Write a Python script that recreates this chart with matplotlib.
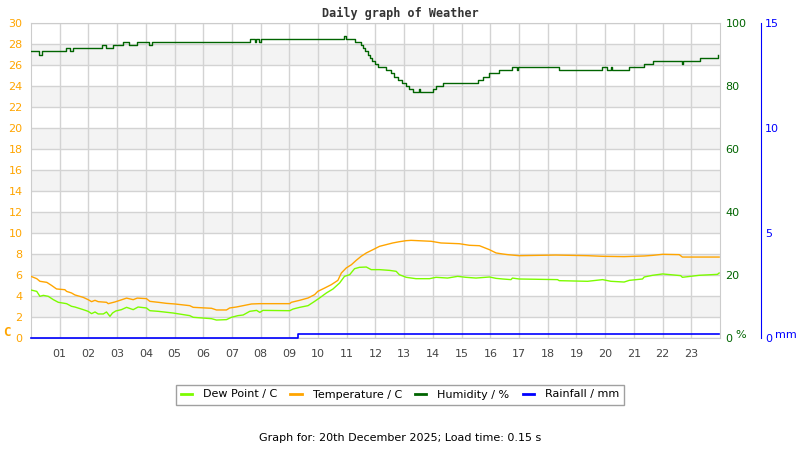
import matplotlib
matplotlib.use('Agg')
import matplotlib.pyplot as plt
from matplotlib.lines import Line2D

# readings taken off the daily weather graph (hour of day, value)
temp_hours = [0.00, 0.20, 0.31, 0.55, 0.72, 0.89, 1.18, 1.24, 1.41, 1.53, 1.82, 1.99,
              2.11, 2.23, 2.34, 2.63, 2.69, 2.92, 3.10, 3.33, 3.56, 3.70, 4.02, 4.14,
              4.43, 4.72, 5.01, 5.53, 5.65, 6.29, 6.46, 6.81, 6.92, 7.15, 7.39, 7.68,
              7.97, 9.01, 9.07, 9.36, 9.65, 9.88, 9.99, 10.23, 10.46, 10.69, 10.81, 10.98,
              11.16, 11.33, 11.50, 11.68, 11.91, 12.14, 12.37, 12.60, 12.83, 13.07, 13.24,
              13.94, 14.28, 14.92, 15.27, 15.62, 15.97, 16.20, 16.43, 16.60, 17.00, 18.28,
              19.39, 19.91, 20.66, 21.36, 21.65, 22.00, 22.58, 22.69, 23.97]
temp_vals = [5.87, 5.65, 5.40, 5.30, 5.00, 4.67, 4.60, 4.44, 4.29, 4.10, 3.87, 3.65,
             3.46, 3.59, 3.46, 3.40, 3.27, 3.43, 3.59, 3.80, 3.65, 3.80, 3.75, 3.49,
             3.40, 3.30, 3.24, 3.08, 2.92, 2.83, 2.67, 2.67, 2.86, 2.95, 3.08, 3.24,
             3.27, 3.27, 3.40, 3.59, 3.81, 4.13, 4.44, 4.76, 5.08, 5.49, 6.19, 6.67,
             6.98, 7.40, 7.78, 8.10, 8.41, 8.73, 8.89, 9.05, 9.17, 9.27, 9.30,
             9.21, 9.05, 8.98, 8.83, 8.79, 8.41, 8.10, 8.00, 7.94, 7.84, 7.90,
             7.84, 7.78, 7.75, 7.81, 7.87, 7.97, 7.94, 7.71, 7.71]

dew_hours = [0.00, 0.20, 0.31, 0.43, 0.60, 0.78, 0.95, 1.24, 1.41, 1.53, 1.82, 1.99,
             2.11, 2.23, 2.34, 2.52, 2.63, 2.75, 2.84, 2.95, 3.15, 3.33, 3.56, 3.73,
             4.02, 4.14, 4.43, 4.95, 5.53, 5.65, 6.29, 6.46, 6.81, 6.98, 7.21, 7.39,
             7.62, 7.86, 7.97, 8.08, 9.01, 9.13, 9.36, 9.65, 9.88, 10.05, 10.29, 10.52,
             10.75, 10.92, 11.10, 11.27, 11.44, 11.68, 11.85, 12.14, 12.49, 12.72, 12.83,
             13.07, 13.41, 13.88, 14.11, 14.51, 14.86, 15.15, 15.50, 15.97, 16.20, 16.43,
             16.72, 16.77, 17.00, 18.34, 18.40, 19.39, 19.91, 20.20, 20.66, 20.84, 21.30,
             21.36, 21.65, 22.00, 22.63, 22.69, 23.27, 23.91, 23.97]
dew_vals = [4.57, 4.44, 3.97, 4.06, 3.97, 3.65, 3.40, 3.27, 3.02, 2.95, 2.70, 2.54,
            2.32, 2.48, 2.29, 2.29, 2.48, 2.06, 2.38, 2.57, 2.70, 2.92, 2.70, 2.95,
            2.86, 2.60, 2.54, 2.38, 2.13, 1.97, 1.84, 1.71, 1.75, 1.97, 2.13, 2.19,
            2.54, 2.63, 2.44, 2.63, 2.60, 2.76, 2.92, 3.08, 3.49, 3.81, 4.29, 4.67,
            5.24, 5.87, 6.03, 6.60, 6.73, 6.76, 6.51, 6.51, 6.44, 6.35, 6.03,
            5.78, 5.65, 5.65, 5.78, 5.71, 5.87, 5.78, 5.71, 5.81, 5.68, 5.62,
            5.56, 5.71, 5.62, 5.56, 5.46, 5.40, 5.56, 5.40, 5.33, 5.49, 5.62,
            5.81, 5.97, 6.10, 5.94, 5.78, 5.97, 6.06, 6.19]

hum_hours = [0.00, 0.28, 0.38, 1.22, 1.36, 1.46, 2.47, 2.62, 2.84, 3.20, 3.41, 3.69,
             4.10, 4.20, 7.62, 7.80, 7.85, 7.95, 8.02, 10.90, 10.97, 11.30, 11.48, 11.56,
             11.64, 11.73, 11.81, 11.88, 11.99, 12.10, 12.37, 12.55, 12.66, 12.78, 12.93,
             13.07, 13.16, 13.30, 13.50, 13.55, 13.99, 14.11, 14.34, 15.56, 15.73, 15.94,
             16.31, 16.74, 16.94, 16.98, 18.40, 19.88, 20.08, 20.20, 20.25, 20.83, 21.36,
             21.68, 22.66, 22.70, 23.30, 23.94]
hum_vals = [91, 90, 91, 92, 91, 92, 93, 92, 93, 94, 93, 94,
            93, 94, 95, 94, 95, 94, 95, 96, 95, 94, 93, 92,
            91, 90, 89, 88, 87, 86, 85, 84, 83, 82, 81,
            80, 79, 78, 79, 78, 79, 80, 81, 82, 83, 84,
            85, 86, 85, 86, 85, 86, 85, 86, 85, 86, 87,
            88, 87, 88, 89, 90]

rain_hours = [0.0, 9.29, 23.97]
rain_vals = [0.0, 0.2, 0.2]

hour_ticks = list(range(1, 24))
hour_labels = ['%02d' % h for h in hour_ticks]

c_dew = '#7cfc00'
c_temp = '#ffa500'
c_hum = '#006400'
c_rain = '#0000ff'

fig = plt.figure(figsize=(8, 4.5), dpi=100)
ax = fig.add_axes([31 / 800, 1 - 338 / 450, 689 / 800, 315 / 450])
ax.set_xlim(0, 24)
ax.set_ylim(0, 30)
for lo in range(2, 28, 4):
    ax.axhspan(lo, lo + 2, color='#f3f3f3', lw=0, zorder=0)
ax.set_axisbelow(True)
ax.grid(True, color='#d3d3d3', lw=1)
ax.set_yticks(range(0, 31, 2))
ax.set_xticks(hour_ticks)
ax.set_xticklabels(hour_labels)
ax.tick_params(axis='y', length=0, pad=6, labelsize=8, labelcolor=c_temp)
ax.tick_params(axis='x', length=0, pad=8, labelsize=8, labelcolor='#444444')
for s in ax.spines.values():
    s.set_color('#cccccc')

ax.plot(dew_hours, dew_vals, color=c_dew, lw=1.0, zorder=3)
ax.plot(temp_hours, temp_vals, color=c_temp, lw=1.0, zorder=3)

ax_h = ax.twinx()
ax_h.set_ylim(0, 100)
ax_h.set_yticks(range(0, 101, 20))
ax_h.tick_params(axis='y', length=0, pad=4, labelsize=8, labelcolor=c_hum)
for s in ax_h.spines.values():
    s.set_visible(False)
ax_h.step(hum_hours, hum_vals, where='post', color=c_hum, lw=1.0)

ax_r = ax.twinx()
ax_r.set_ylim(0, 15)
ax_r.set_yticks([0, 5, 10, 15])
ax_r.spines['right'].set_position(('axes', 730 / 689))
for name, s in ax_r.spines.items():
    s.set_visible(name == 'right')
ax_r.spines['right'].set_color(c_rain)
ax_r.tick_params(axis='y', length=0, pad=3, labelsize=8, labelcolor=c_rain)
ax_r.step(rain_hours, rain_vals, where='post', color=c_rain, lw=1.2, clip_on=False)

fig.text(0.5, 1 - 13 / 450, 'Daily graph of Weather', ha='center', va='center',
         family='DejaVu Sans Mono', weight='bold', fontsize=8.5, color='#333333')
fig.text(7 / 800, 1 - 333 / 450, 'C', ha='center', va='center', color=c_temp,
         family='DejaVu Sans Mono', weight='bold', fontsize=9)
fig.text(735 / 800, 1 - 335 / 450, '%', ha='left', va='center', color=c_hum, fontsize=8)
fig.text(775 / 800, 1 - 335 / 450, 'mm', ha='left', va='center', color=c_rain, fontsize=8)

handles = [Line2D([], [], color=c, lw=2) for c in (c_dew, c_temp, c_hum, c_rain)]
labels = ['Dew Point / C', 'Temperature / C', 'Humidity / %', 'Rainfall / mm']
leg = fig.legend(handles, labels, loc='center', bbox_to_anchor=(0.5, 1 - 394.5 / 450),
                 ncol=4, fontsize=8, fancybox=False, edgecolor='#888888',
                 handlelength=1.0, handletextpad=1.0, columnspacing=1.2, borderpad=0.45)
leg.get_frame().set_linewidth(1)

fig.text(0.5, 1 - 438 / 450, 'Graph for: 20th December 2025; Load time: 0.15 s',
         ha='center', va='center', fontsize=8, color='black')

fig.savefig('out.png', dpi=100)
